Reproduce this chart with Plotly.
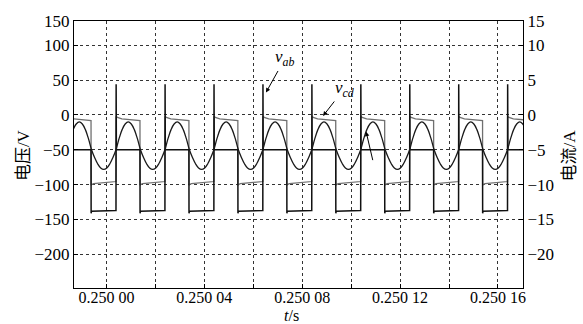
import plotly.graph_objects as go

# switching period (50 kHz) and the instants of the v_ab rising edges
period = 2e-5
rise_times = [0.2499839, 0.2500039, 0.2500239, 0.2500439, 0.2500639,
              0.2500839, 0.2501039, 0.2501239, 0.2501439, 0.2501639]

# one switching cycle of each waveform: phase (fraction of period) and value
vab_phase = [0.000, 0.003, 0.008, 0.490, 0.492, 0.500, 0.995]
vab_volts = [-137, 44, -50, -50, -141, -138, -137]

vcd_phase = [0.000, 0.002, 0.008, 0.030, 0.120, 0.490, 0.492, 0.500, 0.540, 0.995]
vcd_volts = [-95.5, -2.0, -2.5, -3.5, -5.5, -8.0, -101, -100, -98.5, -95.5]

i_phase = [0.0000, 0.0625, 0.1250, 0.1875, 0.2500, 0.3125, 0.3750, 0.4375,
           0.5000, 0.5625, 0.6250, 0.6875, 0.7500, 0.8125, 0.8750, 0.9375]
i_amps = [-5.0, -3.4, -2.1, -1.3, -1.0, -1.3, -2.1, -3.4,
          -5.0, -6.1, -7.0, -7.6, -7.8, -7.6, -7.0, -6.1]

# axis ticks
x_tick_vals = [0.25000, 0.25002, 0.25004, 0.25006, 0.25008,
               0.25010, 0.25012, 0.25014, 0.25016]
x_tick_text = ["0.250 00", "", "0.250 04", "", "0.250 08", "", "0.250 12", "", "0.250 16"]
v_tick_vals = [-200, -150, -100, -50, 0, 50, 100, 134.9]
v_tick_text = ["\u2212200", "\u2212150", "\u2212100", "\u221250", "0", "50", "100", "150"]
a_tick_vals = [-20, -15, -10, -5, 0, 5, 10, 13.49]
a_tick_text = ["\u221220", "\u221215", "\u221210", "\u22125", "0", "5", "10", "15"]

x_range = [0.24998674, 0.25017023]
v_range = [-248.3, 134.9]
a_range = [v_range[0] / 10, v_range[1] / 10]


def tile(phases, values):
    xs, ys = [], []
    for r in rise_times:
        xs += [r + p * period for p in phases]
        ys += list(values)
    return xs, ys


FONT = "Liberation Serif, Noto Sans CJK SC, serif"

fig = go.Figure()

x, y = tile(vcd_phase, vcd_volts)
fig.add_trace(go.Scatter(x=x, y=y, mode="lines", name="v_cd",
                         line=dict(color="#707070", width=1.3)))

x, y = tile(vab_phase, vab_volts)
fig.add_trace(go.Scatter(x=x, y=y, mode="lines", name="v_ab",
                         line=dict(color="#111111", width=1.5)))

x, y = tile(i_phase, i_amps)
fig.add_trace(go.Scatter(x=x, y=y, mode="lines", name="i", yaxis="y2",
                         line=dict(color="#1a1a1a", width=1.3, shape="spline", smoothing=1)))

axis_common = dict(
    showline=True, linecolor="black", linewidth=1,
    ticks="inside", ticklen=4, tickcolor="black", tickwidth=1,
    tickfont=dict(family=FONT, size=17, color="black"),
    zeroline=False,
)

fig.update_layout(
    width=583, height=324,
    margin=dict(l=74, r=60, t=15, b=36),
    paper_bgcolor="white", plot_bgcolor="white",
    showlegend=False,
    xaxis=dict(range=x_range, tickmode="array", tickvals=x_tick_vals, ticktext=x_tick_text,
               showgrid=True, gridcolor="#333333", gridwidth=1, griddash="dot",
               mirror=True, **axis_common),
    yaxis=dict(range=v_range, tickmode="array", tickvals=v_tick_vals, ticktext=v_tick_text,
               showgrid=True, gridcolor="#333333", gridwidth=1, griddash="dot",
               mirror=True, **axis_common),
    yaxis2=dict(range=a_range, tickmode="array", tickvals=a_tick_vals, ticktext=a_tick_text,
                overlaying="y", side="right", showgrid=False, **axis_common),
)
fig.update_xaxes(tickfont_size=16, ticklabelstandoff=-5)

label_font = dict(family=FONT, size=17, color="black")

# axis titles
fig.add_annotation(text="电压/V", xref="paper", yref="paper", x=-0.114, y=0.497,
                   textangle=-90, showarrow=False, font=label_font,
                   xanchor="center", yanchor="middle")
fig.add_annotation(text="电流/A", xref="paper", yref="paper", x=1.103, y=0.497,
                   textangle=-90, showarrow=False, font=label_font,
                   xanchor="center", yanchor="middle")
fig.add_annotation(text="<i>t</i>/s", xref="paper", yref="paper", x=0.485, y=-0.104,
                   showarrow=False, font=dict(family=FONT, size=16, color="black"),
                   xanchor="center", yanchor="middle", borderpad=0)

# waveform labels with pointers
arrow_style = dict(showarrow=True, arrowhead=2, arrowsize=0.9, arrowwidth=1, arrowcolor="black")
fig.add_annotation(text="<i>v</i><sub><i>ab</i></sub>", x=0.25006519, y=32.3, ax=19, ay=-34,
                   font=label_font, **arrow_style)
fig.add_annotation(text="<i>v</i><sub><i>cd</i></sub>", x=0.25008851, y=-1.4, ax=21, ay=-27,
                   font=label_font, **arrow_style)
fig.add_annotation(text="", x=0.25010611, y=-23.9, ax=7, ay=30, **arrow_style)

fig.write_html("out.html")
